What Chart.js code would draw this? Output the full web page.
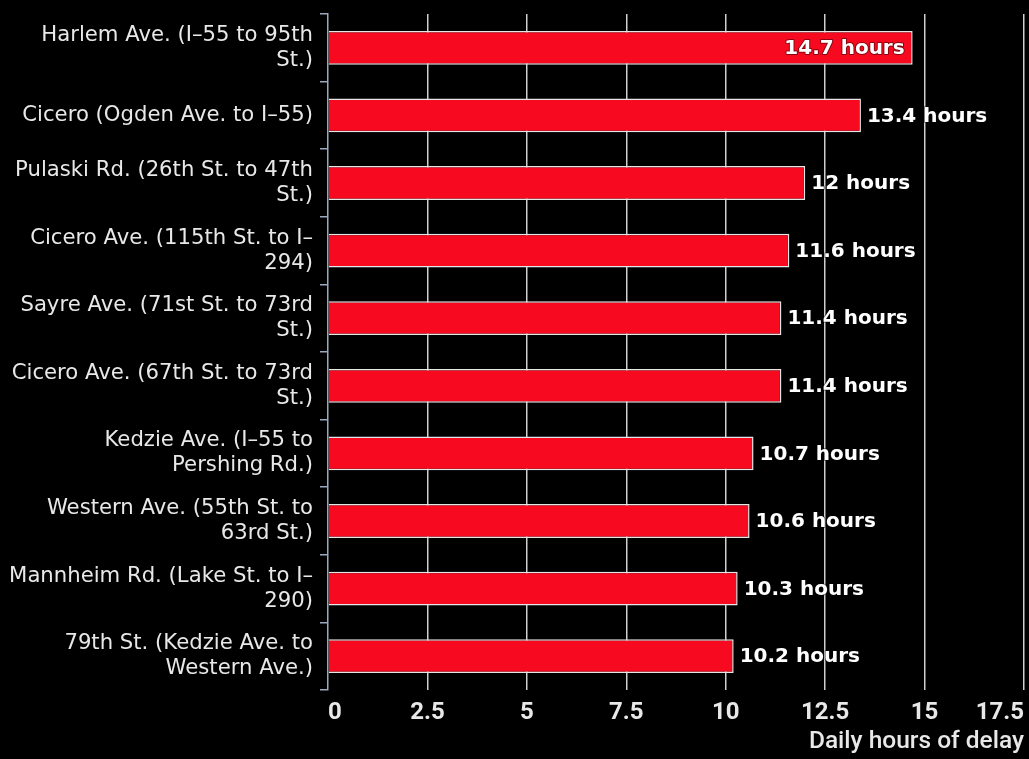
<!DOCTYPE html>
<html>
<head>
<meta charset="utf-8">
<title>Daily hours of delay</title>
<script src="https://cdn.jsdelivr.net/npm/chart.js@4.4.1/dist/chart.umd.min.js"></script>
<style>
  html, body { margin: 0; padding: 0; background: #000; }
  #wrap { width: 1029px; height: 759px; }
</style>
</head>
<body>
<div id="wrap"><canvas id="chart" width="1029" height="759"></canvas></div>
<script>
// Road segments (wrapped onto two lines) and their daily hours of delay
const segments = [
  ["Harlem Ave. (I–55 to 95th", "St.)"],
  ["Cicero (Ogden Ave. to I–55)"],
  ["Pulaski Rd. (26th St. to 47th", "St.)"],
  ["Cicero Ave. (115th St. to I–", "294)"],
  ["Sayre Ave. (71st St. to 73rd", "St.)"],
  ["Cicero Ave. (67th St. to 73rd", "St.)"],
  ["Kedzie Ave. (I–55 to", "Pershing Rd.)"],
  ["Western Ave. (55th St. to", "63rd St.)"],
  ["Mannheim Rd. (Lake St. to I–", "290)"],
  ["79th St. (Kedzie Ave. to", "Western Ave.)"]
];
const delayHours = [14.7, 13.4, 12, 11.6, 11.4, 11.4, 10.7, 10.6, 10.3, 10.2];
const valueSuffix = " hours";
const axisTitle = "Daily hours of delay";
const xMax = 17.5;
const xStep = 2.5;

// Writes "<value> hours" beside each bar, or inside its end when there is no room
const valueLabels = {
  id: 'valueLabels',
  afterDatasetsDraw(chart) {
    const ctx = chart.ctx;
    const meta = chart.getDatasetMeta(0);
    ctx.save();
    ctx.font = 'bold 20px "DejaVu Sans"';
    ctx.textBaseline = 'middle';
    ctx.lineJoin = 'round';
    meta.data.forEach((bar, i) => {
      const text = delayHours[i] + valueSuffix;
      const w = ctx.measureText(text).width;
      let x = bar.x + 6;
      ctx.textAlign = 'left';
      if (x + w > chart.width - 2) {
        x = bar.x - 8;
        ctx.textAlign = 'right';
      }
      ctx.lineWidth = 2;
      ctx.strokeStyle = 'rgba(0,0,0,0.45)';
      ctx.strokeText(text, x, bar.y + 1);
      ctx.fillStyle = '#ffffff';
      ctx.fillText(text, x, bar.y + 1);
    });
    ctx.restore();
  }
};

new Chart(document.getElementById('chart'), {
  type: 'bar',
  data: {
    labels: segments,
    datasets: [{
      data: delayHours,
      backgroundColor: '#f70a1f',
      borderColor: '#e6e6e6',
      borderWidth: 1.5,
      categoryPercentage: 1,
      barPercentage: 0.5
    }]
  },
  options: {
    indexAxis: 'y',
    responsive: false,
    animation: false,
    layout: { padding: { top: 14, right: 5, bottom: 0, left: 0 } },
    plugins: {
      legend: { display: false },
      tooltip: { enabled: false }
    },
    scales: {
      x: {
        min: 0,
        max: xMax,
        ticks: {
          stepSize: xStep,
          align: 'inner',
          color: '#e8e8e8',
          padding: 9,
          font: { family: 'Roboto', size: 24, weight: 'bold' }
        },
        grid: {
          color: (c) => (c.tick && c.tick.value === 0) ? 'rgba(0,0,0,0)' : '#cfcfcf',
          lineWidth: 1.5,
          drawTicks: false
        },
        border: { display: false },
        title: {
          display: true,
          text: axisTitle,
          align: 'end',
          color: '#e8e8e8',
          padding: { top: 0, bottom: 2 },
          font: { family: 'Roboto', size: 24.5, weight: '500' }
        },
        afterFit(scale) {
          scale.height = 69;
          scale.paddingLeft = 0;
          scale.paddingRight = 0;
        }
      },
      y: {
        ticks: {
          color: '#e8e8e8',
          padding: 7,
          font: { family: '"DejaVu Sans"', size: 21.2, lineHeight: 1.18 }
        },
        grid: {
          drawOnChartArea: false,
          drawTicks: true,
          tickLength: 8,
          color: '#9aa9bd',
          lineWidth: 1.5
        },
        border: { display: true, color: '#9aa9bd', width: 1.5 },
        afterFit(scale) {
          scale.width = 328;
          scale.paddingTop = 0;
          scale.paddingBottom = 0;
        }
      }
    }
  },
  plugins: [valueLabels]
});
</script>
</body>
</html>
